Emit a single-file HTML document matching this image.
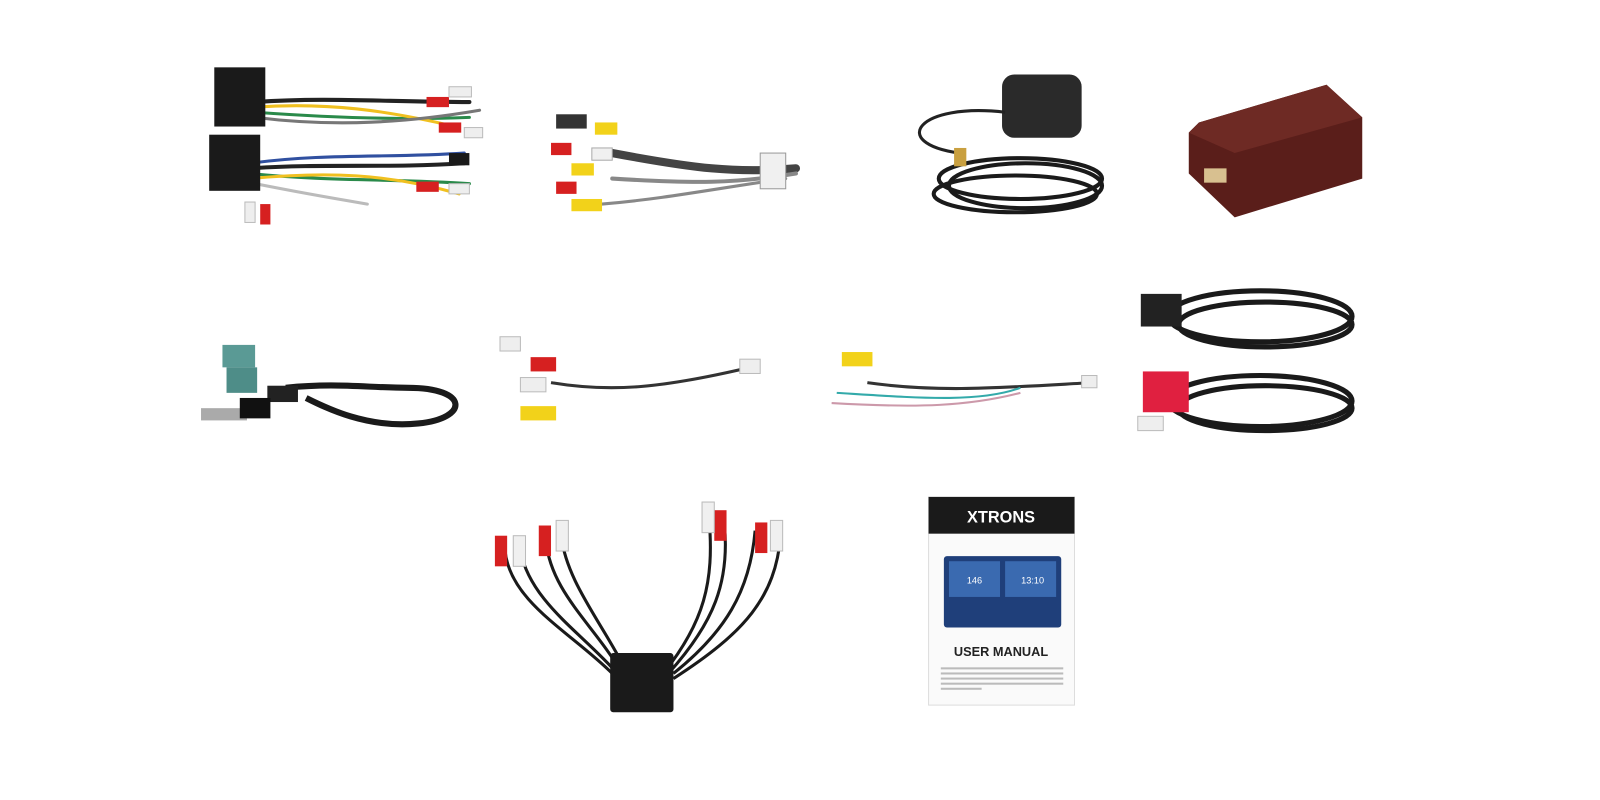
<!DOCTYPE html>
<html><head><meta charset="utf-8"><style>
html,body{margin:0;padding:0;background:#fff;width:1600px;height:800px;overflow:hidden}
svg{display:block}
text{font-family:"Liberation Sans",sans-serif}
</style></head><body>
<svg width="1600" height="800" viewBox="0 0 1568 784" preserveAspectRatio="none" xmlns="http://www.w3.org/2000/svg">
<rect width="1568" height="784" fill="#fff"/>
<!-- 1 harness -->
<g fill="none" stroke-linecap="round">
<path d="M250 100 C320 95 380 100 460 100" stroke="#222" stroke-width="4"/>
<path d="M250 110 C320 115 390 118 460 115" stroke="#2a8a4a" stroke-width="3"/>
<path d="M250 105 C320 100 380 108 450 125" stroke="#f0c020" stroke-width="3"/>
<path d="M250 115 C330 125 400 120 470 108" stroke="#777" stroke-width="3"/>
<path d="M245 165 C320 160 380 165 455 160" stroke="#222" stroke-width="4"/>
<path d="M245 170 C320 178 390 175 460 180" stroke="#2a8a4a" stroke-width="3"/>
<path d="M245 175 C320 168 380 170 450 190" stroke="#f0c020" stroke-width="3"/>
<path d="M245 160 C320 150 380 155 455 150" stroke="#3050a0" stroke-width="3"/>
<path d="M250 180 C300 190 330 195 360 200" stroke="#bbb" stroke-width="3"/>
</g>
<rect x="210" y="66" width="50" height="58" fill="#1a1a1a"/>
<rect x="205" y="132" width="50" height="55" fill="#1a1a1a"/>
<g fill="#d62020"><rect x="418" y="95" width="22" height="10"/><rect x="430" y="120" width="22" height="10"/><rect x="408" y="178" width="22" height="10"/><rect x="255" y="200" width="10" height="20"/></g>
<g fill="#eee" stroke="#bbb"><rect x="440" y="85" width="22" height="10"/><rect x="455" y="125" width="18" height="10"/><rect x="240" y="198" width="10" height="20"/><rect x="440" y="180" width="20" height="10"/></g>
<rect x="440" y="150" width="20" height="12" fill="#1a1a1a"/>
<!-- 2 RCA cable -->
<g fill="none" stroke-linecap="round">
<path d="M600 150 C680 165 720 170 780 165" stroke="#444" stroke-width="8"/>
<path d="M600 175 C680 180 720 180 780 170" stroke="#888" stroke-width="4"/>
<path d="M590 200 C650 195 700 185 770 175" stroke="#888" stroke-width="3"/>
</g>
<rect x="745" y="150" width="25" height="35" fill="#f0f0f0" stroke="#999"/>
<g fill="#f2d21a"><rect x="583" y="120" width="22" height="12"/><rect x="560" y="160" width="22" height="12"/><rect x="560" y="195" width="30" height="12"/></g>
<rect x="545" y="112" width="30" height="14" fill="#333"/>
<g fill="#d62020"><rect x="540" y="140" width="20" height="12"/><rect x="545" y="178" width="20" height="12"/></g>
<rect x="580" y="145" width="20" height="12" fill="#f0f0f0" stroke="#aaa"/>
<!-- 3 GPS -->
<rect x="982" y="73" width="78" height="62" rx="12" fill="#2a2a2a"/>
<path d="M985 110 C900 100 870 140 940 150" fill="none" stroke="#222" stroke-width="3"/>
<g fill="none" stroke="#1a1a1a" stroke-width="4">
<ellipse cx="1000" cy="175" rx="80" ry="20"/><ellipse cx="1005" cy="182" rx="75" ry="22"/><ellipse cx="995" cy="190" rx="80" ry="18"/></g>
<rect x="935" y="145" width="12" height="18" fill="#c9a040"/>
<!-- 4 box -->
<polygon points="1175,120 1300,83 1335,115 1335,175 1210,213 1165,170 1165,130" fill="#5a1e1a"/>
<polygon points="1175,120 1300,83 1335,115 1210,150 1165,130" fill="#6e2a24"/>
<rect x="1180" y="165" width="22" height="14" fill="#d8c090"/>
<!-- 5 antenna adapter -->
<path d="M280 380 C330 375 360 380 400 380 C460 380 460 410 410 415 C360 420 320 400 300 390" fill="none" stroke="#1a1a1a" stroke-width="6"/>
<rect x="218" y="338" width="32" height="22" fill="#5a9a95"/>
<rect x="222" y="360" width="30" height="25" fill="#4e8d88"/>
<rect x="262" y="378" width="30" height="16" fill="#222"/>
<rect x="197" y="400" width="45" height="12" fill="#aaa"/>
<rect x="235" y="390" width="30" height="20" fill="#111"/>
<!-- 6 cable -->
<path d="M540 375 C600 385 650 380 735 360" fill="none" stroke="#333" stroke-width="3"/>
<rect x="490" y="330" width="20" height="14" fill="#eee" stroke="#bbb"/>
<rect x="520" y="350" width="25" height="14" fill="#d62020"/>
<rect x="510" y="370" width="25" height="14" fill="#eee" stroke="#bbb"/>
<rect x="510" y="398" width="35" height="14" fill="#f2d21a"/>
<rect x="725" y="352" width="20" height="14" fill="#eee" stroke="#bbb"/>
<!-- 7 cable -->
<path d="M850 375 C920 385 980 380 1070 375" fill="none" stroke="#333" stroke-width="3"/>
<path d="M820 385 C900 390 960 395 1000 380" fill="none" stroke="#3aa" stroke-width="2"/>
<path d="M815 395 C900 400 950 398 1000 385" fill="none" stroke="#c9a" stroke-width="2"/>
<rect x="825" y="345" width="30" height="14" fill="#f2d21a"/>
<rect x="1060" y="368" width="15" height="12" fill="#eee" stroke="#bbb"/>
<!-- 8 USB cables -->
<g fill="none" stroke="#1a1a1a" stroke-width="5">
<ellipse cx="1235" cy="310" rx="90" ry="25"/><ellipse cx="1240" cy="318" rx="85" ry="22"/>
<ellipse cx="1235" cy="393" rx="90" ry="25"/><ellipse cx="1240" cy="400" rx="85" ry="22"/></g>
<rect x="1118" y="288" width="40" height="32" fill="#222"/>
<rect x="1120" y="364" width="45" height="40" fill="#e02040"/>
<rect x="1115" y="408" width="25" height="14" fill="#eee" stroke="#bbb"/>
<!-- 9 splitter -->
<g fill="none" stroke="#1a1a1a" stroke-width="3">
<path d="M600 660 C560 620 500 590 495 540"/><path d="M605 660 C570 620 520 590 510 540"/>
<path d="M610 660 C580 610 540 580 535 530"/><path d="M615 660 C590 610 555 570 550 525"/>
<path d="M650 660 C690 610 700 570 695 510"/><path d="M655 660 C700 610 715 570 710 515"/>
<path d="M660 660 C710 620 735 580 740 520"/><path d="M660 665 C730 620 760 585 765 525"/></g>
<g fill="#d62020"><rect x="485" y="525" width="12" height="30"/><rect x="528" y="515" width="12" height="30"/><rect x="700" y="500" width="12" height="30"/><rect x="740" y="512" width="12" height="30"/></g>
<g fill="#f0f0f0" stroke="#bbb"><rect x="503" y="525" width="12" height="30"/><rect x="545" y="510" width="12" height="30"/><rect x="688" y="492" width="12" height="30"/><rect x="755" y="510" width="12" height="30"/></g>
<rect x="598" y="640" width="62" height="58" rx="3" fill="#1a1a1a"/>
<!-- 10 manual -->
<rect x="910" y="487" width="143" height="204" fill="#fafafa" stroke="#ddd"/>
<rect x="910" y="487" width="143" height="36" fill="#1a1a1a"/>
<text x="981" y="512" font-size="16" font-weight="bold" fill="#fff" text-anchor="middle">XTRONS</text>
<rect x="925" y="545" width="115" height="70" rx="3" fill="#1f3f7a"/>
<rect x="930" y="550" width="50" height="35" fill="#3a6ab0"/>
<rect x="985" y="550" width="50" height="35" fill="#3a6ab0"/>
<text x="955" y="572" font-size="9" fill="#fff" text-anchor="middle">146</text>
<text x="1012" y="572" font-size="9" fill="#fff" text-anchor="middle">13:10</text>
<text x="981" y="643" font-size="12.5" font-weight="bold" fill="#222" text-anchor="middle">USER MANUAL</text>
<g fill="#bbb"><rect x="922" y="654" width="120" height="2"/><rect x="922" y="659" width="120" height="2"/><rect x="922" y="664" width="120" height="2"/><rect x="922" y="669" width="120" height="2"/><rect x="922" y="674" width="40" height="2"/></g>
</svg>
</body></html>
